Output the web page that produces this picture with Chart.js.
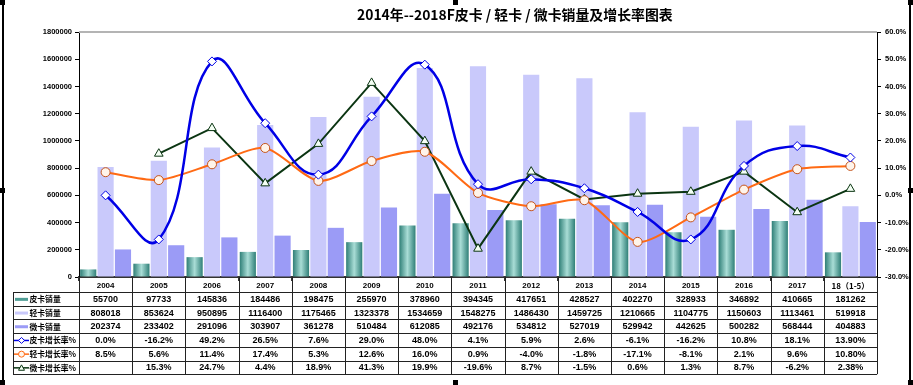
<!DOCTYPE html>
<html>
<head>
<meta charset="utf-8">
<script src="https://cdn.jsdelivr.net/npm/chart.js@4/dist/chart.umd.min.js"></script>
<style>
  html, body { margin: 0; padding: 0; background: #fff; }
  #wrap { width: 913px; height: 385px; position: relative; }
</style>
</head>
<body>
<div id="wrap"><canvas id="salesChart"></canvas></div>
<script>
var years = ['2004', '2005', '2006', '2007', '2008', '2009', '2010', '2011', '2012', '2013', '2014', '2015', '2016', '2017', '18（1-5）'];

var pickupSales = [55700, 97733, 145836, 184486, 198475, 255970, 378960, 394345, 417651, 428527, 402270, 328933, 346892, 410665, 181262];
var lightSales = [808018, 853624, 950895, 1116400, 1175465, 1323378, 1534659, 1548275, 1486430, 1459725, 1210665, 1104775, 1150603, 1113461, 519918];
var miniSales = [202374, 233402, 291096, 303907, 361278, 510484, 612085, 492176, 534812, 527019, 529942, 442625, 500282, 568444, 404883];

var pickupGrowth = [0.0, -16.2, 49.2, 26.5, 7.6, 29.0, 48.0, 4.1, 5.9, 2.6, -6.1, -16.2, 10.8, 18.1, 13.90];
var lightGrowth = [8.5, 5.6, 11.4, 17.4, 5.3, 12.6, 16.0, 0.9, -4.0, -1.8, -17.1, -8.1, 2.1, 9.6, 10.80];
var miniGrowth = [null, 15.3, 24.7, 4.4, 18.9, 41.3, 19.9, -19.6, 8.7, -1.5, 0.6, 1.3, 8.7, -6.2, 2.38];

var titleText = '2014年--2018F皮卡 / 轻卡 / 微卡销量及增长率图表';

var TEAL = '#4f9d95';
var LIGHT = '#c9c9fb';
var PURPLE = '#9b9bf6';
var BLUE = '#0000e6';
var ORANGE = '#ff6a14';
var GREEN = '#0b3512';

var numFont = '"Liberation Sans", Arial, sans-serif';
var cjkFont = '"Noto Sans CJK SC", "Liberation Sans", sans-serif';

// teal bars get a horizontal cylinder-like gradient
function tealFill(c) {
    var el = c.element;
    if (!el || el.x === undefined || !el.width) return TEAL;
    var g = c.chart.ctx.createLinearGradient(el.x - el.width / 2, 0, el.x + el.width / 2, 0);
    g.addColorStop(0, '#2f7f77');
    g.addColorStop(0.5, '#a9ddd6');
    g.addColorStop(1, '#2f7f77');
    return g;
}

function fmtPct(v, i) {
    if (v === null) return '';
    return v.toFixed(i === years.length - 1 ? 2 : 1) + '%';
}

var tableRows = [
    { label: '皮卡销量', data: pickupSales, kind: 'bar', color: TEAL },
    { label: '轻卡销量', data: lightSales, kind: 'bar', color: LIGHT },
    { label: '微卡销量', data: miniSales, kind: 'bar', color: PURPLE },
    { label: '皮卡增长率%', data: pickupGrowth, kind: 'line', color: BLUE, marker: 'diamond', fill: '#ffffff' },
    { label: '轻卡增长率%', data: lightGrowth, kind: 'line', color: ORANGE, marker: 'circle', fill: '#fff4ea' },
    { label: '微卡增长率%', data: miniGrowth, kind: 'line', color: GREEN, marker: 'triangle', fill: '#f4fff4' }
];

function drawMarker(ctx, type, x, y, r, fill, stroke) {
    ctx.beginPath();
    if (type === 'diamond') {
        ctx.moveTo(x, y - r); ctx.lineTo(x + r, y); ctx.lineTo(x, y + r); ctx.lineTo(x - r, y); ctx.closePath();
    } else if (type === 'circle') {
        ctx.arc(x, y, r, 0, Math.PI * 2);
    } else {
        ctx.moveTo(x, y - r); ctx.lineTo(x + r, y + r * 0.8); ctx.lineTo(x - r, y + r * 0.8); ctx.closePath();
    }
    ctx.fillStyle = fill; ctx.fill();
    ctx.strokeStyle = stroke; ctx.lineWidth = 1; ctx.stroke();
}

var tablePlugin = {
    id: 'dataTable',
    afterDraw: function (chart) {
        var ctx = chart.ctx;
        var area = chart.chartArea;
        var n = years.length;
        var colW = (area.right - area.left) / n;
        var left = 13;
        var top = area.bottom;
        var headH = 15;
        var rowH = 13.7;
        var bottom = top + headH + rowH * tableRows.length;

        ctx.save();

        // top border of plot
        ctx.strokeStyle = '#b4b4b4'; ctx.lineWidth = 2;
        ctx.beginPath(); ctx.moveTo(area.left, area.top); ctx.lineTo(area.right, area.top); ctx.stroke();

        // grid of table
        ctx.strokeStyle = '#222'; ctx.lineWidth = 1;
        ctx.beginPath();
        for (var r = 0; r <= tableRows.length; r++) {
            var yy = Math.round(top + headH + r * rowH) + 0.5;
            ctx.moveTo(left, yy); ctx.lineTo(area.right, yy);
        }
        for (var c = 0; c <= n; c++) {
            var xx = Math.round(area.left + c * colW) + 0.5;
            ctx.moveTo(xx, top); ctx.lineTo(xx, bottom);
        }
        ctx.moveTo(left + 0.5, top + headH); ctx.lineTo(left + 0.5, bottom);
        ctx.stroke();

        // header years
        ctx.fillStyle = '#000';
        ctx.textAlign = 'center'; ctx.textBaseline = 'middle';
        for (var i = 0; i < n; i++) {
            ctx.font = (i === n - 1 ? 'bold 8px ' + cjkFont : 'bold 8px ' + numFont);
            ctx.fillText(years[i], area.left + (i + 0.5) * colW, top + headH / 2 + 1);
        }

        // rows
        tableRows.forEach(function (row, r) {
            var cy = top + headH + (r + 0.5) * rowH + 0.5;
            // legend key
            if (row.kind === 'bar') {
                ctx.fillStyle = row.color;
                ctx.fillRect(15, cy - 1.5, 13, 3);
            } else {
                ctx.strokeStyle = row.color; ctx.lineWidth = 1.5;
                ctx.beginPath(); ctx.moveTo(14, cy); ctx.lineTo(29, cy); ctx.stroke();
                drawMarker(ctx, row.marker, 21.5, cy, 3, row.fill, row.color);
            }
            ctx.fillStyle = '#000';
            ctx.textAlign = 'left';
            ctx.font = 'bold 7.8px ' + cjkFont;
            ctx.fillText(row.label, 29.5, cy);
            ctx.textAlign = 'center';
            ctx.font = 'bold 9px ' + numFont;
            for (var k = 0; k < n; k++) {
                var v = row.data[k];
                var txt = row.kind === 'bar' ? String(v) : fmtPct(v, k);
                ctx.fillText(txt, area.left + (k + 0.5) * colW, cy);
            }
        });

        // title
        ctx.fillStyle = '#000';
        ctx.textAlign = 'left'; ctx.textBaseline = 'middle';
        ctx.font = 'bold 15px ' + cjkFont;
        var w = ctx.measureText(titleText).width;
        var fs = 15 * 316 / w;
        ctx.font = 'bold ' + fs.toFixed(2) + 'px ' + cjkFont;
        ctx.fillText(titleText, 357, 15);

        // frame and selection handles
        ctx.fillStyle = '#000';
        ctx.fillRect(2, 4, 2, 378);
        ctx.fillRect(909, 4, 2, 378);
        [[0, 0], [453, 0], [908, 0], [0, 188], [908, 188], [0, 380], [453, 380], [908, 380]].forEach(function (p) {
            ctx.fillRect(p[0], p[1], 5, 5);
        });

        ctx.restore();
    }
};

var ctx = document.getElementById('salesChart').getContext('2d');
var chart = new Chart(ctx, {
    type: 'bar',
    data: {
        labels: years,
        datasets: [
            { label: '皮卡增长率%', type: 'line', data: pickupGrowth, yAxisID: 'y1', order: 0,
              borderColor: BLUE, borderWidth: 2.5, tension: 0.45, pointStyle: 'rectRot', pointRadius: 4.5,
              pointBackgroundColor: '#ffffff', pointBorderColor: BLUE, pointBorderWidth: 1 },
            { label: '轻卡增长率%', type: 'line', data: lightGrowth, yAxisID: 'y1', order: 0,
              borderColor: ORANGE, borderWidth: 2, tension: 0.25, pointStyle: 'circle', pointRadius: 4.5,
              pointBackgroundColor: '#fff4ea', pointBorderColor: '#c4541c', pointBorderWidth: 1 },
            { label: '微卡增长率%', type: 'line', data: miniGrowth, yAxisID: 'y1', order: 0,
              borderColor: GREEN, borderWidth: 2, tension: 0, pointStyle: 'triangle', pointRadius: 5,
              pointBackgroundColor: '#f4fff4', pointBorderColor: GREEN, pointBorderWidth: 1 },
            { label: '皮卡销量', data: pickupSales, backgroundColor: tealFill, order: 1 },
            { label: '轻卡销量', data: lightSales, backgroundColor: LIGHT, order: 1 },
            { label: '微卡销量', data: miniSales, backgroundColor: PURPLE, order: 1 }
        ]
    },
    options: {
        responsive: true,
        maintainAspectRatio: false,
        animation: false,
        datasets: { bar: { categoryPercentage: 0.98, barPercentage: 0.93 } },
        layout: { padding: { top: 32, left: 0, right: 0, bottom: 0 } },
        plugins: { legend: { display: false }, tooltip: { enabled: false }, title: { display: false } },
        scales: {
            x: {
                offset: true,
                grid: { display: true, drawOnChartArea: false, drawTicks: true, tickLength: 4, color: '#333', offset: true },
                border: { color: '#333', width: 2 },
                ticks: { display: false },
                afterFit: function (s) { s.height = 108; }
            },
            y: {
                position: 'left', min: 0, max: 1800000,
                grid: { drawOnChartArea: false, tickLength: 4, color: '#000' },
                border: { color: '#000', width: 1 },
                ticks: { stepSize: 200000, padding: 3, color: '#000', font: { family: numFont, size: 7.5, weight: 'bold' },
                         callback: function (v) { return String(v); } },
                afterFit: function (s) { s.width = 79; }
            },
            y1: {
                position: 'right', min: -30, max: 60,
                grid: { drawOnChartArea: false, tickLength: 4, color: '#000' },
                border: { color: '#000', width: 1 },
                ticks: { stepSize: 10, padding: 4, color: '#000', font: { family: numFont, size: 7.5, weight: 'bold' },
                         callback: function (v) { return v.toFixed(1) + '%'; } },
                afterFit: function (s) { s.width = 36; }
            }
        }
    },
    plugins: [tablePlugin]
});
// second pass so the gradient can read bar positions
chart.update();
</script>
</body>
</html>
